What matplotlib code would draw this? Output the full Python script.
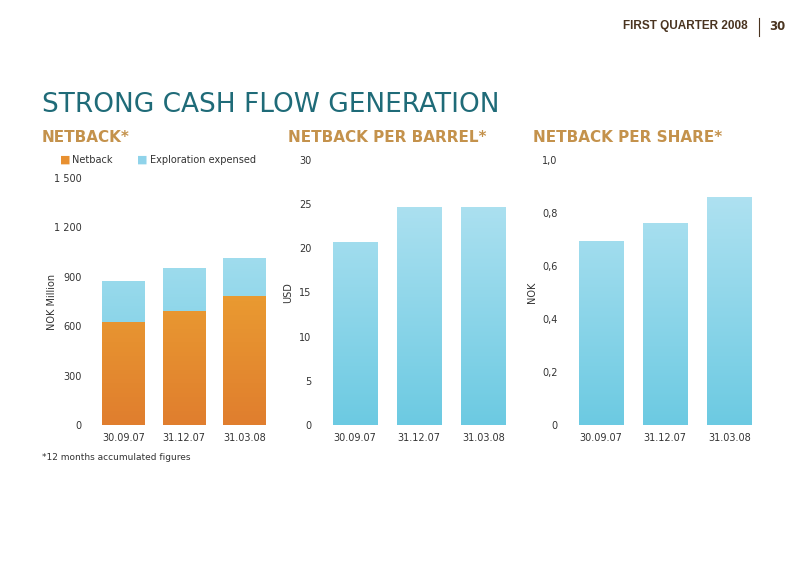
import matplotlib
matplotlib.use("Agg")
import matplotlib.pyplot as plt
import numpy as np
from matplotlib.colors import LinearSegmentedColormap

dates = ["30.09.07", "31.12.07", "31.03.08"]
netback = [625, 692, 783]
exploration = [249, 261, 231]
per_barrel = [20.7, 24.7, 24.7]
per_share = [0.694, 0.762, 0.86]

fig = plt.figure(figsize=(8, 5.64), dpi=100)
W, H = 800, 564
def ax_at(x0, x1, y0, y1):
    return fig.add_axes([x0/W, 1-y1/H, (x1-x0)/W, (y1-y0)/H])

orange = LinearSegmentedColormap.from_list("o", ["#e07e2e", "#f2b434"])
blue = LinearSegmentedColormap.from_list("b", ["#6ccae2", "#b9e5f3"])

def grad_bar(ax, x, bottom, height, cmap, ymax, width=0.7):
    bars = ax.bar(x, height, bottom=bottom, width=width, color="none", edgecolor="none")
    grad = np.linspace(0, 1, 256).reshape(-1, 1)
    for b in bars:
        xx, yy = b.get_x(), b.get_y()
        im = ax.imshow(grad, extent=[xx, xx+b.get_width(), 0, ymax], origin="lower",
                       aspect="auto", cmap=cmap, zorder=2)
        im.set_clip_path(b)

def style(ax, ymax, ticks, labels, ylabel):
    for s in ax.spines.values():
        s.set_visible(False)
    ax.set_xlim(-0.55, 2.45)
    ax.set_ylim(0, ymax)
    ax.set_yticks(ticks)
    ax.set_yticklabels(labels, fontsize=7, color="#333333")
    ax.set_xticks(range(3))
    ax.set_xticklabels(dates, fontsize=7, color="#333333")
    ax.tick_params(length=0, pad=6)
    ax.set_ylabel(ylabel, fontsize=7, color="#333333", labelpad=4)

x = np.arange(3)
ax1 = ax_at(90, 272, 178, 425)
grad_bar(ax1, x, [0]*3, netback, orange, 1500)
grad_bar(ax1, x, netback, exploration, blue, 1500)
style(ax1, 1500, [0, 300, 600, 900, 1200, 1500], ["0", "300", "600", "900", "1 200", "1 500"], "NOK Million")
ax1.set_ylabel("NOK Million", fontsize=7, color="#333333", labelpad=-2)

ax2 = ax_at(320, 512, 160, 425)
grad_bar(ax2, x, [0]*3, per_barrel, blue, 30)
style(ax2, 30, [0, 5, 10, 15, 20, 25, 30], ["0", "5", "10", "15", "20", "25", "30"], "USD")

ax3 = ax_at(566, 758, 160, 425)
grad_bar(ax3, x, [0]*3, per_share, blue, 1.0)
style(ax3, 1.0, [0, 0.2, 0.4, 0.6, 0.8, 1.0], ["0", "0,2", "0,4", "0,6", "0,8", "1,0"], "NOK")

# legend
fig.text(60/W, 1-160/H, "■", color="#e89030", fontsize=8, va="center")
fig.text(72/W, 1-160/H, "Netback", fontsize=7, color="#333333", va="center")
fig.text(137/W, 1-160/H, "■", color="#8fd3ea", fontsize=8, va="center")
fig.text(150/W, 1-160/H, "Exploration expensed", fontsize=7, color="#333333", va="center")

gold = "#c4924c"
fig.text(42/W, 1-105/H, "STRONG CASH FLOW GENERATION", fontsize=19, color="#1f6b78", va="center")
fig.text(42/W, 1-138/H, "NETBACK*", fontsize=11, color=gold, weight="bold", va="center")
fig.text(288/W, 1-138/H, "NETBACK PER BARREL*", fontsize=11, color=gold, weight="bold", va="center")
fig.text(533/W, 1-138/H, "NETBACK PER SHARE*", fontsize=11, color=gold, weight="bold", va="center")
fig.text(42/W, 1-457/H, "*12 months accumulated figures", fontsize=6.5, color="#333333", va="center")

fig.text(748/W, 1-26/H, "FIRST QUARTER 2008", fontsize=8.5, color="#4a3420", weight="bold",
         ha="right", va="center", family="Liberation Sans Narrow" if False else "DejaVu Sans Condensed" if False else "Liberation Sans")
fig.add_artist(plt.Line2D([759/W, 759/W], [1-18/H, 1-36/H], color="#4a3420", lw=0.8))
fig.text(769/W, 1-26/H, "30", fontsize=8.5, color="#4a3420", weight="bold", va="center")

fig.savefig("out.png", dpi=100, facecolor="white")
